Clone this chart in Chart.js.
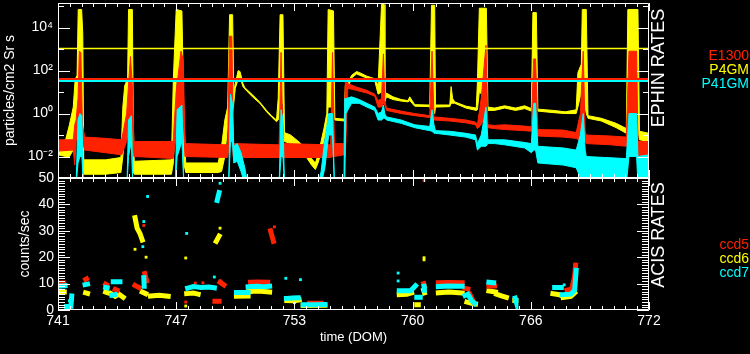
<!DOCTYPE html>
<html>
<head>
<meta charset="utf-8">
<title>EPHIN / ACIS rates</title>
<script src="https://cdn.jsdelivr.net/npm/chart.js@4.4.1/dist/chart.umd.min.js"></script>
<style>
  body { margin: 0; background: #000; width: 750px; height: 354px; overflow: hidden; position: relative; font-family: "Liberation Sans", Arial, sans-serif; }
  canvas { position: absolute; left: 0; }
  #ephin { top: 0; }
  #acis { top: 170px; }
  .side { position: absolute; color: #fff; font-size: 18px; line-height: 18px; white-space: nowrap; transform: translate(-50%, -50%) rotate(-90deg); }
  .key { position: absolute; right: 1px; font-size: 14px; line-height: 14px; }
</style>
</head>
<body>
<canvas id="ephin" width="750" height="180"></canvas>
<canvas id="acis" width="750" height="184"></canvas>
<div class="side" style="left:658px; top:68px">EPHIN RATES</div>
<div class="side" style="left:658px; top:235px">ACIS RATES</div>
<div class="key" style="top:48px; color:#ff2200">E1300</div>
<div class="key" style="top:62px; color:#ffff00">P4GM</div>
<div class="key" style="top:76px; color:#00ffff">P41GM</div>
<div class="key" style="top:237px; color:#ff2200">ccd5</div>
<div class="key" style="top:251px; color:#ffff00">ccd6</div>
<div class="key" style="top:265px; color:#00ffff">ccd7</div>
<script>
const RED = "#ff2200";
const YELLOW = "#ffff00";
const CYAN = "#00ffff";

// time axis (DOM)
const domTickValues = [741, 747.2, 753.4, 759.6, 765.8, 772];
const domTickLabels = ["741", "747", "753", "760", "766", "772"];

// EPHIN panel axis
const ephinTickValues = [1e-2, 1, 1e2, 1e4];
const ephinTickLabels = ["10⁻²", "10⁰", "10²", "10⁴"];
const ephinDecades = [1e-3, 1e-2, 0.1, 1, 10, 100, 1e3, 1e4, 1e5];

// alert levels
const p4gmLimit = 1070;
const e1300Limit = 40.5;
const p41gmLimit = 32.7;

// P4GM (yellow): min / max envelope per time step
const p4gmDays = [741.00, 741.40, 741.60, 741.80, 741.90, 742.00, 742.06, 742.24, 742.30, 742.35,
  743.50, 744.30, 744.40, 744.50, 744.65, 744.70, 744.90, 744.95, 745.00, 746.95,
  747.05, 747.20, 747.50, 747.60, 747.70, 749.40, 749.58, 749.75, 749.90, 750.00,
  750.16, 750.22, 750.30, 750.45, 750.55, 750.70, 750.80, 751.20, 751.59, 751.94,
  752.20, 752.46, 752.55, 752.65, 752.80, 752.88, 753.20, 753.68, 754.04, 754.30,
  754.50, 754.64, 754.80, 754.95, 755.10, 755.17, 755.45, 755.52, 756.02, 756.07,
  756.20, 756.40, 756.66, 756.83, 757.20, 757.61, 757.79, 757.97, 758.10, 758.15,
  758.23, 758.57, 759.00, 759.36, 759.45, 759.71, 760.50, 760.59, 760.76, 760.80,
  761.55, 761.62, 761.70, 761.81, 762.40, 762.94, 763.00, 763.10, 763.47, 763.55,
  763.90, 764.43, 765.00, 765.48, 765.83, 765.91, 766.09, 766.17, 767.00, 767.60,
  768.18, 768.27, 768.45, 768.50, 768.71, 768.80, 769.50, 770.28, 770.81, 770.89,
  771.42, 771.50, 772.00];
const p4gmHigh = [0.05, 0.06, 0.3, 2, 40, 60, 7e4, 7e4, 5e3, 0.007,
  0.007, 0.009, 2, 20, 40, 7e4, 7e4, 0.3, 0.006, 0.007,
  40, 7e4, 6e4, 1, 0.005, 0.005, 0.03, 0.5, 2, 4e4,
  4e4, 10, 25, 100, 90, 25, 16, 7.5, 3.4, 1.4,
  0.8, 0.5, 5, 4e4, 4e4, 0.13, 0.1, 0.045, 0.02, 0.008,
  0.005, 0.012, 0.05, 0.2, 1, 7e4, 6e4, 0.6, 0.55, 20,
  25, 60, 90, 80, 55, 42, 20, 1.2e5, 1.2e5, 4,
  9, 6, 4.5, 4, 6, 2.6, 2.5, 1.1e5, 1.1e5, 2.5,
  2.5, 18, 5, 3.5, 2.2, 1.8, 30, 8e4, 8e4, 2,
  1.8, 2.3, 1.8, 2.3, 1.7, 5e4, 5e4, 1.6, 1.4, 1.2,
  1.5, 80, 200, 7e4, 7e4, 0.8, 0.6, 0.35, 0.2, 7e4,
  7e4, 0.15, 0.12];
const p4gmLow = [0.012, 0.01, 0.01, 0.02, 0.5, 0.3, 5, 3, 0.02, 0.0015,
  0.0015, 0.0018, 0.01, 0.1, 1, 20, 10, 0.002, 0.0015, 0.0015,
  0.005, 30, 30, 0.005, 0.0018, 0.0018, 0.002, 0.01, 0.3, 2,
  1, 3, 15, 40, 50, 18, 14, 6, 3, 1.2,
  0.7, 0.42, 0.5, 3, 3, 0.05, 0.04, 0.02, 0.009, 0.004,
  0.0025, 0.005, 0.015, 0.06, 0.3, 2, 2, 0.5, 0.45, 10,
  15, 45, 70, 60, 45, 35, 8, 10, 3, 3,
  6, 4.5, 3.8, 3.5, 4, 2.2, 2.1, 1, 1, 2,
  2.1, 3, 3, 3, 1.8, 1.4, 1.5, 10, 5, 1.4,
  1.4, 1.8, 1.4, 1.7, 1.3, 1.5, 2, 1.3, 1.1, 1.0,
  1.0, 2, 10, 10, 1, 0.6, 0.45, 0.22, 0.12, 0.2,
  0.2, 0.06, 0.05];

// E1300 (red)
const e1300Days = [741.00, 741.80, 741.88, 741.95, 742.05, 742.12, 742.20, 742.28, 742.40, 743.50,
  744.34, 744.60, 744.80, 744.90, 744.98, 746.08, 747.04, 747.20, 747.45, 747.57,
  747.66, 749.90, 750.00, 750.12, 750.20, 752.60, 752.70, 752.80, 755.30, 755.40,
  755.50, 756.00, 756.07, 756.20, 756.66, 757.20, 757.61, 757.79, 757.97, 758.07,
  758.14, 758.23, 759.00, 759.71, 760.50, 760.62, 760.72, 761.55, 762.40, 762.90,
  763.00, 763.20, 763.45, 763.55, 763.90, 764.43, 765.48, 765.83, 765.95, 766.05,
  766.17, 767.50, 768.18, 768.40, 768.55, 768.65, 768.71, 770.00, 770.81, 770.95,
  771.35, 771.42, 772.00];
const e1300High = [0.06, 0.06, 0.3, 0.5, 5, 800, 700, 0.3, 0.08, 0.07,
  0.06, 1, 450, 20, 0.05, 0.05, 0.05, 10, 800, 300,
  0.04, 0.035, 4000, 4000, 0.04, 0.035, 700, 0.04, 0.035, 700,
  0.04, 0.04, 30, 25, 17, 12, 8, 4, 5, 600,
  4, 1.8, 1.3, 1.0, 0.8, 800, 0.7, 0.6, 0.5, 0.4,
  0.3, 5, 1500, 0.3, 0.28, 0.3, 0.26, 0.24, 350, 350,
  0.18, 0.17, 0.13, 1, 800, 0.15, 0.1, 0.09, 0.08, 800,
  800, 0.05, 0.05];
const e1300Low = [0.018, 0.02, 0.004, 0.05, 0.3, 0.5, 0.3, 0.05, 0.02, 0.015,
  0.012, 0.05, 0.5, 0.3, 0.01, 0.009, 0.008, 0.1, 1, 0.5,
  0.01, 0.009, 0.05, 0.05, 0.009, 0.009, 0.01, 0.009, 0.009, 0.01,
  0.01, 0.012, 0.01, 15, 12, 9, 6.5, 2, 2, 3,
  2.5, 1.4, 1.0, 0.8, 0.65, 0.6, 0.5, 0.45, 0.37, 0.3,
  0.2, 0.3, 1, 0.22, 0.2, 0.18, 0.16, 0.15, 0.2, 0.2,
  0.09, 0.08, 0.07, 0.05, 0.1, 0.05, 0.04, 0.035, 0.03, 0.05,
  0.02, 0.01, 0.008];

// P41GM (cyan); 0.0005 = below the axis floor
const p41gmDays = [741.00, 741.08, 741.95, 742.05, 742.15, 742.25, 742.33, 744.62, 744.70, 744.85,
  744.92, 747.15, 747.25, 747.50, 747.60, 749.95, 750.05, 750.15, 750.22, 750.40,
  750.60, 750.80, 750.95, 752.60, 752.70, 752.80, 752.88, 754.65, 754.80, 755.00,
  755.20, 755.40, 755.50, 756.00, 756.04, 756.10, 756.40, 756.80, 757.20, 757.61,
  757.79, 757.97, 758.07, 758.14, 758.23, 759.00, 759.71, 760.50, 760.62, 760.72,
  760.80, 761.55, 762.40, 762.90, 763.00, 763.20, 763.45, 763.55, 763.90, 764.43,
  765.48, 765.83, 765.95, 766.05, 766.17, 767.50, 768.18, 768.40, 768.55, 768.65,
  768.71, 770.81, 770.95, 771.35, 771.42, 772.00];
const p41gmHigh = [0.0016, 0.0005, 0.0005, 0.5, 1, 0.8, 0.0005, 0.0005, 0.5, 0.8,
  0.0005, 0.0005, 1.5, 2.5, 0.0005, 0.0005, 8, 3, 0.03, 0.04,
  0.015, 0.003, 0.0005, 0.0005, 1.5, 0.5, 0.0005, 0.0005, 0.002, 0.06,
  1, 1, 0.0005, 0.0005, 5, 5, 6, 4.5, 3, 2,
  1, 1.2, 2.5, 1, 0.7, 0.5, 0.3, 0.25, 1.5, 0.3,
  0.16, 0.15, 0.12, 0.1, 0.04, 0.1, 2, 0.06, 0.06, 0.06,
  0.045, 0.04, 3, 3, 0.03, 0.025, 0.02, 0.1, 1, 0.02,
  0.01, 0.008, 1, 1, 0.01, 0.012];
const p41gmLow = [0.0005, 0.0005, 0.0005, 0.005, 0.01, 0.01, 0.0005, 0.0005, 0.01, 0.05,
  0.0005, 0.0005, 0.01, 0.05, 0.0005, 0.0005, 0.05, 0.05, 0.005, 0.006,
  0.002, 0.0005, 0.0005, 0.0005, 0.01, 0.01, 0.0005, 0.0005, 0.0005, 0.003,
  0.1, 0.1, 0.0005, 0.0005, 0.0005, 1, 3, 3, 2, 1.4,
  0.5, 0.5, 0.6, 0.6, 0.5, 0.35, 0.22, 0.16, 0.15, 0.12,
  0.12, 0.1, 0.08, 0.06, 0.02, 0.03, 0.03, 0.04, 0.04, 0.035,
  0.025, 0.015, 0.02, 0.02, 0.005, 0.004, 0.003, 0.001, 0.001, 0.0005,
  0.0005, 0.0005, 0.01, 0.01, 0.0005, 0.0005];

// ACIS panel axis
const acisTickValues = [0, 10, 20, 30, 40, 50];

// ACIS clusters (null separates groups)
const ccd7Days = [741.02, 741.37, null, 741.45, 741.68, 741.72, null, 742.42, 742.55, null,
  743.50, 743.58, null, 743.90, 744.25, null, 743.82, 743.98, null, 745.50, 745.52, null,
  747.80, 748.10, 748.50, 748.90, 749.20, null, 749.35, 749.45, null, 750.36, 750.97, null,
  750.97, 751.40, 751.80, 752.10, null, 752.98, 753.30, 753.60, null, 753.86, 754.50, 755.00, null,
  758.90, 759.50, 759.75, null, 759.82, 760.00, null, 760.20, 760.22, null,
  760.95, 761.50, 762.20, null, 762.35, 762.50, 762.70, 762.85, null, 763.60, 763.85, null,
  764.98, 765.02, null, 767.05, 767.40, null, 767.45, 767.90, 768.10, 768.18];
const ccd7Rates = [9.0, 9.2, null, 1.3, 1.4, 5.3, null, 9.6, 9.8, null,
  8.5, 8.4, null, 10.7, 10.7, null, 5.6, 5.8, null, 12.3, 9.0, null,
  8.3, 8.9, 8.5, 8.7, 8.4, null, 41.5, 44.5, null, 6.6, 6.6, null,
  8.8, 9.0, 8.8, 9.0, null, 4.4, 4.5, 4.6, null, 2.0, 2.0, 2.1, null,
  7.3, 7.3, 9.2, null, 4.8, 4.8, null, 9.0, 7.5, null,
  8.9, 9.1, 9.0, null, 5.5, 6.0, 3.5, 2.5, null, 10.5, 10.3, null,
  4.5, 3.5, null, 8.5, 8.5, null, 5.8, 6.0, 7.5, 15.0];

const ccd6Days = [741.05, 741.33, null, 742.45, 742.55, null, 743.50, 743.58, null,
  743.78, 744.00, 744.20, 744.42, null, 745.04, 745.15, 745.30, 745.42, null, 745.42, 745.60, null,
  745.85, 746.30, 746.78, null, 747.75, 748.10, 748.35, null, 749.30, 749.45, null, 750.36, 750.97, null,
  751.00, 751.50, 752.10, null, 753.00, 753.40, 753.65, null, 753.86, 755.00, null,
  758.90, 759.30, 759.55, null, 759.82, 759.90, null, 760.18, 760.22, null,
  760.95, 761.50, 762.20, null, 762.45, 762.70, 762.90, null, 763.60, 763.95, null,
  764.00, 764.30, 764.52, null, 764.96, 765.02, null, 766.96, 767.30, 767.50, null,
  767.50, 767.90, 768.10];
const ccd6Rates = [6.8, 6.8, null, 6.5, 6.3, null, 6.8, 6.6, null,
  6.2, 5.2, 6.0, 4.8, null, 35.0, 31.0, 29.0, 26.5, null, 6.8, 6.2, null,
  5.3, 5.6, 5.2, null, 6.2, 6.4, 6.0, null, 26.0, 28.0, null, 5.2, 5.3, null,
  7.0, 7.2, 6.8, null, 3.6, 3.5, 3.8, null, 1.7, 1.8, null,
  5.8, 6.0, 6.5, null, 2.0, 2.0, null, 7.5, 6.5, null,
  6.5, 6.8, 6.4, null, 3.0, 2.5, 2.3, null, 7.2, 6.8, null,
  6.0, 5.3, 4.8, null, 3.6, 3.6, null, 6.2, 5.8, 5.0, null,
  4.8, 5.2, 6.5];

const ccd5Days = [741.02, 741.30, null, 742.45, 742.50, null, 743.50, 743.55, null,
  744.00, 744.10, null, 745.04, 745.25, null, 745.55, 745.65, null, 749.23, 749.45, null,
  749.50, 749.70, null, 751.10, 751.50, 752.00, null, 752.15, 752.30, null, 754.20, 754.80, null,
  760.18, 760.22, null, 760.95, 761.50, 762.20, null, 762.35, 762.50, null, 762.60, 762.80, null,
  763.60, 763.90, null, 767.70, 767.95, 768.10, 768.15];
const ccd5Rates = [10.2, 10.2, null, 11.6, 11.8, null, 9.8, 9.6, null,
  7.8, 7.5, null, 9.3, 8.5, null, 13.8, 11.0, null, 3.3, 3.3, null,
  10.5, 9.5, null, 10.5, 10.6, 10.5, null, 30.0, 26.0, null, 2.6, 2.6, null,
  10.0, 9.0, null, 10.3, 10.4, 10.3, null, 8.2, 8.0, null, 6.0, 3.0, null,
  9.0, 9.1, null, 7.5, 8.0, 13.0, 17.0];

// isolated ACIS readings
const ccd7DotDays = [741.60, 745.50, 745.45, 745.70, 747.75, 749.20, 749.50, 752.95, 753.72, 758.84, 758.84, 767.55];
const ccd7DotRates = [3.5, 33.5, 24.0, 43.0, 29.0, 12.5, 48.0, 12.0, 11.5, 14.0, 11.0, 9.5];
const ccd6DotDays = [745.04, 745.62, 747.70, 747.70, 749.50, 753.40, 760.20, 760.20];
const ccd6DotRates = [23.0, 20.0, 19.7, 1.5, 31.0, 2.8, 19.0, 19.8];
const ccd5DotDays = [745.50, 747.70, 748.20, 748.60, 749.55, 752.35, 760.20];
const ccd5DotRates = [32.0, 3.0, 10.2, 10.3, 11.0, 31.5, 49.0];

Chart.defaults.font.family = '"Liberation Sans", Arial, sans-serif';
Chart.defaults.color = "#fff";

function pairs(days, values) {
  return days.map((d, i) => ({ x: d, y: values[i] }));
}

function limitLine(level, color, width) {
  return { data: [{ x: 741, y: level }, { x: 772, y: level }], borderColor: color, borderWidth: width };
}

// white frame with inward ticks on all four sides
const frameTicks = {
  id: "frameTicks",
  afterDatasetsDraw(chart, args, opts) {
    const { ctx, chartArea: a, scales: { x, y } } = chart;
    ctx.save();
    ctx.strokeStyle = "#fff";
    ctx.lineWidth = 1;
    ctx.beginPath();
    ctx.rect(a.left + 0.5, a.top + 0.5, a.width - 1, a.height - 1);
    for (let i = 0; i <= 50; i++) {
      const px = Math.round(x.getPixelForValue(741 + i * 0.62)) + 0.5;
      const len = i % 10 === 0 ? 8 : 4;
      ctx.moveTo(px, a.top); ctx.lineTo(px, a.top + len);
      ctx.moveTo(px, a.bottom); ctx.lineTo(px, a.bottom - len);
    }
    opts.marks.forEach(([v, len]) => {
      const py = Math.round(y.getPixelForValue(v)) + 0.5;
      ctx.moveTo(a.left, py); ctx.lineTo(a.left + len, py);
      ctx.moveTo(a.right, py); ctx.lineTo(a.right - len, py);
    });
    ctx.stroke();
    ctx.restore();
  }
};

const noPad = s => { s.paddingLeft = 0; s.paddingRight = 0; s.paddingTop = 0; s.paddingBottom = 0; };

// EPHIN panel
new Chart(document.getElementById("ephin"), {
  type: "line",
  data: {
    datasets: [
      limitLine(e1300Limit, RED, 2),
      limitLine(p41gmLimit, CYAN, 2),
      limitLine(p4gmLimit, YELLOW, 1.5),
      { data: pairs(p41gmDays, p41gmHigh), borderColor: CYAN, backgroundColor: CYAN, fill: "+1" },
      { data: pairs(p41gmDays, p41gmLow), borderColor: CYAN },
      { data: pairs(e1300Days, e1300High), borderColor: RED, backgroundColor: RED, fill: "+1" },
      { data: pairs(e1300Days, e1300Low), borderColor: RED },
      { data: pairs(p4gmDays, p4gmHigh), borderColor: YELLOW, backgroundColor: YELLOW, fill: "+1" },
      { data: pairs(p4gmDays, p4gmLow), borderColor: YELLOW }
    ]
  },
  options: {
    responsive: false,
    animation: false,
    devicePixelRatio: 1,
    layout: { padding: { top: 3, right: 101, bottom: 2, left: 0 } },
    elements: { point: { radius: 0 }, line: { borderWidth: 1, tension: 0 } },
    plugins: {
      legend: { display: false },
      tooltip: { enabled: false },
      frameTicks: { marks: ephinDecades.map(v => [v, ephinTickValues.includes(v) ? 12 : 6]) }
    },
    scales: {
      x: { type: "linear", min: 741, max: 772, display: false },
      y: {
        type: "logarithmic", min: 1e-3, max: 1.4e5,
        afterBuildTicks: s => { s.ticks = ephinTickValues.map(v => ({ value: v })); },
        afterFit: s => { s.width = 58; noPad(s); },
        ticks: { font: { size: 14 }, padding: 5, callback: (v, i) => ephinTickLabels[i] },
        grid: { display: false, drawTicks: false },
        border: { display: false },
        title: { display: true, text: "particles/cm2 Sr s", font: { size: 14 }, padding: { top: 2, bottom: 0 } }
      }
    }
  },
  plugins: [frameTicks]
});

// ACIS panel
const dotStyle = { showLine: false, pointStyle: "rect", pointRadius: 2, pointBorderWidth: 0 };
const bandStyle = { borderWidth: 5, borderCapStyle: "square", spanGaps: false };

const acisMarks = [];
for (let v = 0; v <= 50; v++) acisMarks.push([v, v % 10 === 0 ? 12 : 7]);

new Chart(document.getElementById("acis"), {
  type: "line",
  data: {
    datasets: [
      { data: pairs(ccd7Days, ccd7Rates), borderColor: CYAN, ...bandStyle },
      { data: pairs(ccd7DotDays, ccd7DotRates), backgroundColor: CYAN, ...dotStyle },
      { data: pairs(ccd5Days, ccd5Rates), borderColor: RED, ...bandStyle },
      { data: pairs(ccd5DotDays, ccd5DotRates), backgroundColor: RED, ...dotStyle },
      { data: pairs(ccd6Days, ccd6Rates), borderColor: YELLOW, ...bandStyle },
      { data: pairs(ccd6DotDays, ccd6DotRates), backgroundColor: YELLOW, ...dotStyle }
    ]
  },
  options: {
    responsive: false,
    animation: false,
    devicePixelRatio: 1,
    layout: { padding: { top: 8, right: 101, bottom: 0, left: 0 } },
    elements: { point: { radius: 0 }, line: { tension: 0 } },
    plugins: {
      legend: { display: false },
      tooltip: { enabled: false },
      frameTicks: { marks: acisMarks }
    },
    scales: {
      x: {
        type: "linear", min: 741, max: 772,
        afterBuildTicks: s => { s.ticks = domTickValues.map(v => ({ value: v })); },
        afterFit: s => { s.height = 44; noPad(s); },
        ticks: { font: { size: 14 }, padding: 3, maxRotation: 0, autoSkip: false, callback: (v, i) => domTickLabels[i] },
        grid: { display: false, drawTicks: false },
        border: { display: false },
        title: { display: true, text: "time (DOM)", font: { size: 13 }, padding: { top: 0, bottom: 9 } }
      },
      y: {
        min: 0, max: 50,
        afterBuildTicks: s => { s.ticks = acisTickValues.map(v => ({ value: v })); },
        afterFit: s => { s.width = 58; noPad(s); },
        ticks: { font: { size: 14 }, padding: 4 },
        grid: { display: false, drawTicks: false },
        border: { display: false },
        title: { display: true, text: "counts/sec", font: { size: 14 }, padding: { top: 17, bottom: 0 } }
      }
    }
  },
  plugins: [frameTicks]
});
</script>
</body>
</html>
